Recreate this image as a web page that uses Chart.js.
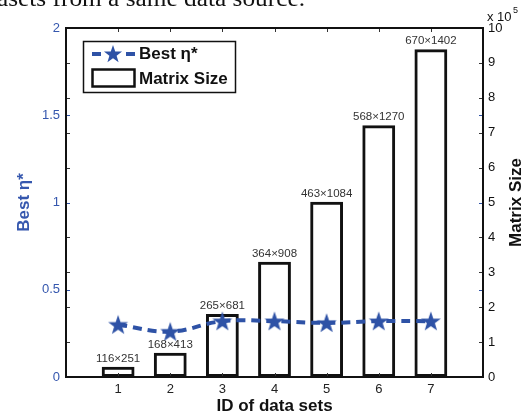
<!DOCTYPE html>
<html lang="en">
<head>
<meta charset="UTF-8" />
<title>Best eta and matrix size per data set</title>
<script src="https://cdn.jsdelivr.net/npm/chart.js"></script>
<style>
  html, body { margin: 0; padding: 0; background: #fff; }
  #wrap { width: 526px; height: 415px; }
</style>
</head>
<body>
<div id="wrap"><canvas id="chart" width="526" height="415"></canvas></div>
<script>
// Data
const dataSetIds = [1, 2, 3, 4, 5, 6, 7];
const sizeLabels = ['116×251', '168×413', '265×681', '364×908', '463×1084', '568×1270', '670×1402'];
const matrixSizes = [29116, 69384, 180465, 330512, 501892, 721360, 939340];
const bestEta = [0.30, 0.26, 0.32, 0.32, 0.31, 0.32, 0.32];
const etaTicks = [0, 0.5, 1, 1.5, 2];
const sizeTicks = [0, 1, 2, 3, 4, 5, 6, 7, 8, 9, 10]; // x 10^5

const BLUE = '#2e52a6';
const BLUE_TEXT = '#3557ae';
const SANS = 'Arial, "Liberation Sans", sans-serif';

function starPath(ctx, cx, cy, R) {
  const r = R * 0.4;
  ctx.beginPath();
  for (let i = 0; i < 10; i++) {
    const rad = i % 2 ? r : R;
    const a = -Math.PI / 2 + i * Math.PI / 5;
    ctx.lineTo(cx + rad * Math.cos(a), cy + rad * Math.sin(a));
  }
  ctx.closePath();
}

// star marker used as point style
const starImg = document.createElement('canvas');
starImg.width = 22; starImg.height = 22;
(function () {
  const c = starImg.getContext('2d');
  c.fillStyle = BLUE;
  starPath(c, 11, 11.8, 10.5);
  c.fill();
})();

const decorations = {
  id: 'decorations',
  afterDraw(chart) {
    const ctx = chart.ctx;
    const area = chart.chartArea;
    const x = chart.scales.x, yL = chart.scales.y, yR = chart.scales.y1;
    ctx.save();

    // cut-off caption line above the figure
    ctx.fillStyle = '#111';
    ctx.font = '23px "Liberation Serif", "DejaVu Serif", serif';
    ctx.textBaseline = 'alphabetic';
    ctx.textAlign = 'left';
    const cap = 'asets from a same data source.';
    const w = ctx.measureText(cap).width;
    ctx.save();
    ctx.translate(-3, 6);
    ctx.scale(308 / w, 1);
    ctx.fillText(cap, 0, 0);
    ctx.restore();

    // bar labels
    ctx.font = '11.5px ' + SANS;
    ctx.fillStyle = '#333';
    ctx.textAlign = 'center';
    ctx.textBaseline = 'alphabetic';
    dataSetIds.forEach((id, i) => {
      ctx.fillText(sizeLabels[i], x.getPixelForValue(id), yR.getPixelForValue(matrixSizes[i]) - 5);
    });

    // inward tick marks
    const tl = 4;
    ctx.lineWidth = 1;
    ctx.strokeStyle = '#333';
    sizeTicks.forEach(t => {
      const py = Math.round(yR.getPixelForValue(t * 1e5)) + 0.5;
      ctx.beginPath();
      ctx.moveTo(area.left, py); ctx.lineTo(area.left + tl, py);
      ctx.moveTo(area.right, py); ctx.lineTo(area.right - tl, py);
      ctx.stroke();
    });
    ctx.strokeStyle = BLUE;
    etaTicks.forEach(t => {
      const py = Math.round(yL.getPixelForValue(t)) + 0.5;
      ctx.beginPath();
      ctx.moveTo(area.left, py); ctx.lineTo(area.left + tl, py);
      ctx.moveTo(area.right, py); ctx.lineTo(area.right - tl, py);
      ctx.stroke();
    });
    ctx.strokeStyle = '#333';
    dataSetIds.forEach(id => {
      const px = Math.round(x.getPixelForValue(id)) + 0.5;
      ctx.beginPath();
      ctx.moveTo(px, area.top); ctx.lineTo(px, area.top + tl);
      ctx.moveTo(px, area.bottom); ctx.lineTo(px, area.bottom - tl);
      ctx.stroke();
    });

    // axes box
    ctx.lineWidth = 2;
    ctx.strokeStyle = '#111';
    ctx.strokeRect(area.left, area.top, area.right - area.left, area.bottom - area.top);

    // x 10^5 multiplier
    ctx.fillStyle = '#111';
    ctx.textAlign = 'left';
    ctx.font = '13px ' + SANS;
    ctx.fillText('x 10', area.right + 4, 21);
    ctx.font = '9px ' + SANS;
    ctx.fillText('5', area.right + 30, 13);

    // right axis title
    ctx.save();
    ctx.translate(516, (area.top + area.bottom) / 2);
    ctx.rotate(-Math.PI / 2);
    ctx.font = 'bold 17px ' + SANS;
    ctx.textAlign = 'center';
    ctx.textBaseline = 'middle';
    ctx.fillText('Matrix Size', 0, 0);
    ctx.restore();

    // legend
    ctx.fillStyle = '#fff';
    ctx.fillRect(83, 41, 152, 51);
    ctx.lineWidth = 1.5;
    ctx.strokeStyle = '#111';
    ctx.strokeRect(83.5, 41.5, 152, 51);
    ctx.fillStyle = BLUE;
    ctx.fillRect(92, 52, 9, 4);
    ctx.fillRect(126, 52, 9, 4);
    starPath(ctx, 113, 54.5, 9.5);
    ctx.fill();
    ctx.lineWidth = 2.5;
    ctx.strokeStyle = '#111';
    ctx.strokeRect(92.5, 69.5, 42, 17);
    ctx.fillStyle = '#111';
    ctx.font = 'bold 17px ' + SANS;
    ctx.textBaseline = 'middle';
    ctx.fillText('Best η*', 139, 54);
    ctx.fillText('Matrix Size', 139, 79);

    ctx.restore();
  }
};

new Chart(document.getElementById('chart'), {
  data: {
    datasets: [
      {
        type: 'line',
        label: 'Best η*',
        yAxisID: 'y',
        order: 0,
        data: dataSetIds.map((id, i) => ({ x: id, y: bestEta[i] })),
        borderColor: BLUE,
        borderWidth: 4,
        borderDash: [9, 6],
        tension: 0.4,
        fill: false,
        pointStyle: starImg,
        pointRadius: 10
      },
      {
        type: 'bar',
        label: 'Matrix Size',
        yAxisID: 'y1',
        order: 1,
        data: dataSetIds.map((id, i) => ({ x: id, y: matrixSizes[i] })),
        backgroundColor: 'rgba(255,255,255,0)',
        borderColor: '#111',
        borderWidth: 3,
        borderSkipped: false,
        categoryPercentage: 1,
        barPercentage: 0.63
      }
    ]
  },
  options: {
    responsive: false,
    animation: false,
    events: [],
    layout: { padding: { top: 28, left: 0, right: 0, bottom: 0 } },
    plugins: { legend: { display: false }, tooltip: { enabled: false } },
    scales: {
      x: {
        type: 'linear',
        min: 0,
        max: 8,
        offset: false,
        afterBuildTicks: s => { s.ticks = dataSetIds.map(v => ({ value: v })); },
        afterFit: s => { s.height = 38; },
        grid: { display: false, drawTicks: false },
        border: { display: false },
        ticks: { color: '#222', font: { size: 13, family: SANS }, padding: 5, autoSkip: false, maxRotation: 0 },
        title: {
          display: true, text: 'ID of data sets', color: '#111',
          font: { size: 17, weight: 'bold', family: SANS, lineHeight: 1 },
          padding: { top: 0, bottom: 0 }
        }
      },
      y: {
        type: 'linear',
        position: 'left',
        min: 0,
        max: 2,
        afterBuildTicks: s => { s.ticks = etaTicks.map(v => ({ value: v })); },
        afterFit: s => { s.width = 66; },
        grid: { display: false, drawTicks: false },
        border: { display: false },
        ticks: { color: BLUE_TEXT, font: { size: 13, family: SANS }, padding: 6, autoSkip: false,
                 callback: v => String(v) },
        title: {
          display: true, text: 'Best η*', color: BLUE_TEXT,
          font: { size: 17, weight: 'bold', family: SANS, lineHeight: 1 },
          padding: { top: 16, bottom: 0 }
        }
      },
      y1: {
        type: 'linear',
        position: 'right',
        min: 0,
        max: 1e6,
        afterBuildTicks: s => { s.ticks = sizeTicks.map(v => ({ value: v * 1e5 })); },
        afterFit: s => { s.width = 43; },
        grid: { display: false, drawTicks: false },
        border: { display: false },
        ticks: { color: '#111', font: { size: 13, family: SANS }, padding: 5, autoSkip: false,
                 callback: v => String(Math.round(v / 1e5)) },
        title: { display: false }
      }
    }
  },
  plugins: [decorations]
});
</script>
</body>
</html>
